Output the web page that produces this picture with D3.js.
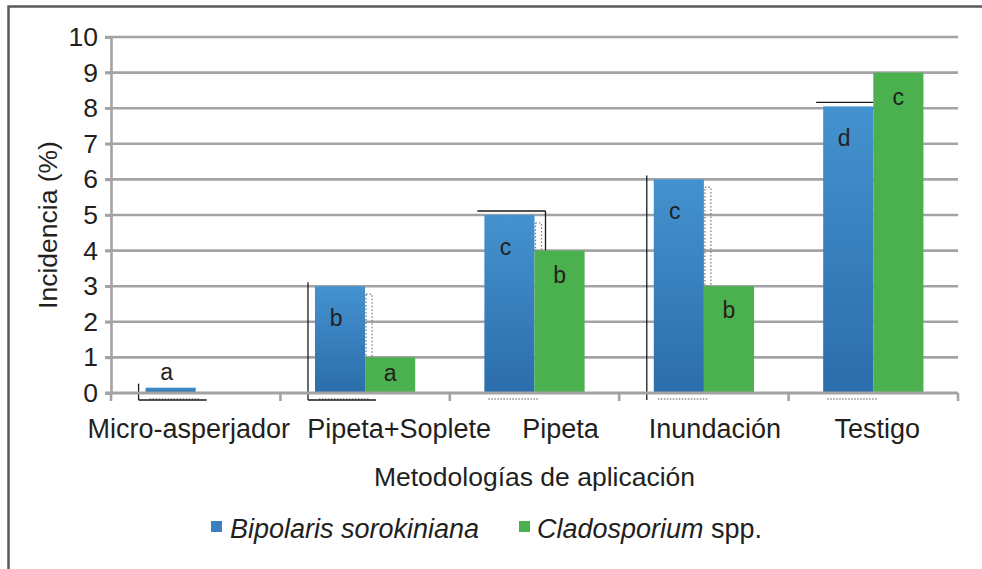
<!DOCTYPE html>
<html>
<head>
<meta charset="utf-8">
<script src="https://cdn.jsdelivr.net/npm/d3@7"></script>
<style>
  body { margin: 0; background: #fff; }
  svg { display: block; font-family: "Liberation Sans", Arial, sans-serif; }
</style>
</head>
<body>
<div id="viz"></div>
<script>
(function() {

// Chart data.
let categories = ["Micro-asperjador", "Pipeta+Soplete", "Pipeta", "Inundación", "Testigo"];
let bipolaris = [0.15, 3, 5, 6, 8.05];
let cladosporium = [0, 1, 4, 3, 9];
let bipolarisLetters = ["a", "b", "c", "c", "d"];
let cladosporiumLetters = ["", "a", "b", "b", "c"];
let yTicks = [0, 1, 2, 3, 4, 5, 6, 7, 8, 9, 10];

// Layout tweaks: the category labels in the original are nudged off-centre,
// and a stray shadow frame shows different sides around each blue bar.
let labelShift = [-7, 34, 26, 11, 4];
let shadowSides = ["lb", "lb", "tr", "l", "t"];

let canvasWidth = 982;
let canvasHeight = 569;
let textColor = "#231f20";
let gridColor = "#a3a3a5";
let fontSize = 26.5;

let svg = d3.select("#viz").append("svg")
  .attr("width", canvasWidth)
  .attr("height", canvasHeight);

let defs = svg.append("defs");
let grad = defs.append("linearGradient")
  .attr("id", "blueGrad")
  .attr("x1", 0).attr("y1", 0).attr("x2", 0).attr("y2", 1);
grad.append("stop").attr("offset", "0%").attr("stop-color", "#4492cf");
grad.append("stop").attr("offset", "100%").attr("stop-color", "#2c6dab");

// outer frame
svg.append("rect")
  .attr("x", 8.5).attr("y", 6.5)
  .attr("width", 1000).attr("height", 600)
  .attr("fill", "none")
  .attr("stroke", "#5a5a5c")
  .attr("stroke-width", 2.5);

let left = 111, right = 958, top = 37, bottom = 393;

let y = d3.scaleLinear().domain([0, 10]).range([bottom, top]);
let x = d3.scaleBand().domain(categories).range([left, right]).padding(0);
let x1 = d3.scaleBand().domain(["b", "c"]).range([0, x.bandwidth()])
  .paddingInner(0).paddingOuter(0.69);

// gridlines
svg.append("g").selectAll("line")
  .data(yTicks.filter(d => d > 0))
  .enter().append("line")
  .attr("x1", left - 6).attr("x2", right)
  .attr("y1", d => y(d)).attr("y2", d => y(d))
  .attr("stroke", gridColor)
  .attr("stroke-width", 2.6);

// y axis
let yAxis = svg.append("g")
  .attr("transform", "translate(" + left + ",0)")
  .call(d3.axisLeft(y).tickValues(yTicks).tickSize(6).tickPadding(7).tickFormat(d3.format("d")));
yAxis.select(".domain").attr("stroke", gridColor).attr("stroke-width", 2.6);
yAxis.selectAll(".tick line").attr("stroke", gridColor).attr("stroke-width", 2.6);
yAxis.selectAll("text")
  .attr("font-size", fontSize)
  .attr("fill", textColor)
  .attr("font-family", "Liberation Sans, Arial, sans-serif");

// bars
let groups = svg.append("g").selectAll("g")
  .data(categories)
  .enter().append("g")
  .attr("transform", d => "translate(" + x(d) + ",0)");

groups.each(function(c, i) {
  let g = d3.select(this);
  let bx = x1("b"), cx = x1("c"), bw = x1.bandwidth();
  let bTop = y(bipolaris[i]);
  let cTop = y(cladosporium[i]);

  // dotted shadow to the right of the blue bar
  if (bipolaris[i] > cladosporium[i] + 0.3) {
    g.append("rect")
      .attr("x", cx + 1).attr("y", bTop + 8)
      .attr("width", 6).attr("height", Math.max(0, cTop - bTop - 8))
      .attr("fill", "none")
      .attr("stroke", "#777")
      .attr("stroke-width", 1.2)
      .attr("stroke-dasharray", "1.5,2");
  }
  // dotted shadow under the blue bar
  g.append("line")
    .attr("x1", bx + 4).attr("x2", cx + 4)
    .attr("y1", bottom + 6).attr("y2", bottom + 6)
    .attr("stroke", "#888")
    .attr("stroke-width", 1.5)
    .attr("stroke-dasharray", "1.5,1.5");

  // stray black shadow frame lines
  let fx0 = bx - 7, fx1 = cx + 11, fy0 = bTop - 4, fy1 = bottom + 4;
  let sides = shadowSides[i];
  let frame = g.append("g").attr("stroke", "#1a1a1a").attr("stroke-width", 1.3);
  if (sides.includes("l")) frame.append("line").attr("x1", fx0).attr("x2", fx0).attr("y1", fy0).attr("y2", fy1 + 3);
  if (sides.includes("b")) frame.append("line").attr("x1", fx0).attr("x2", fx1).attr("y1", fy1 + 3).attr("y2", fy1 + 3);
  if (sides.includes("t")) frame.append("line").attr("x1", fx0).attr("x2", sides.includes("r") ? fx1 : cx).attr("y1", fy0).attr("y2", fy0);
  if (sides.includes("r")) frame.append("line").attr("x1", fx1).attr("x2", fx1).attr("y1", fy0).attr("y2", cTop);

  g.append("rect")
    .attr("x", bx).attr("y", bTop)
    .attr("width", bw).attr("height", bottom - bTop)
    .attr("fill", "url(#blueGrad)");
  if (cladosporium[i] > 0) {
    g.append("rect")
      .attr("x", cx).attr("y", cTop)
      .attr("width", bw).attr("height", bottom - cTop)
      .attr("fill", "#4bb14f");
  }

  // significance letters
  let bLabelY = bipolaris[i] < 1 ? bTop - 16 : bTop + 32;
  g.append("text")
    .attr("x", bx + bw / 2 - 4).attr("y", bLabelY)
    .attr("text-anchor", "middle")
    .attr("dominant-baseline", "central")
    .attr("font-size", 23)
    .attr("fill", textColor)
    .text(bipolarisLetters[i]);
  if (cladosporiumLetters[i]) {
    g.append("text")
      .attr("x", cx + bw / 2).attr("y", Math.min(cTop + 24, bottom - 20))
      .attr("text-anchor", "middle")
      .attr("dominant-baseline", "central")
      .attr("font-size", 23)
      .attr("fill", textColor)
      .text(cladosporiumLetters[i]);
  }
});

// x axis baseline with ticks at category boundaries
svg.append("line")
  .attr("x1", left - 6).attr("x2", right)
  .attr("y1", bottom).attr("y2", bottom)
  .attr("stroke", gridColor).attr("stroke-width", 2.8);
let bounds = categories.map(c => x(c)).concat([right]);
svg.append("g").selectAll("line")
  .data(bounds)
  .enter().append("line")
  .attr("x1", d => d).attr("x2", d => d)
  .attr("y1", bottom).attr("y2", bottom + 8)
  .attr("stroke", gridColor).attr("stroke-width", 2.6);

let xAxis = svg.append("g")
  .attr("transform", "translate(0," + bottom + ")")
  .call(d3.axisBottom(x).tickSize(0).tickPadding(26));
xAxis.select(".domain").remove();
xAxis.selectAll("text")
  .attr("font-size", 27)
  .attr("fill", textColor)
  .attr("font-family", "Liberation Sans, Arial, sans-serif")
  .attr("dx", (d, i) => labelShift[i]);

// axis titles
svg.append("text")
  .attr("transform", "translate(57," + 225 + ") rotate(-90)")
  .attr("text-anchor", "middle")
  .attr("font-size", fontSize)
  .attr("fill", textColor)
  .text("Incidencia (%)");

svg.append("text")
  .attr("x", (left + right) / 2).attr("y", 486)
  .attr("text-anchor", "middle")
  .attr("font-size", fontSize)
  .attr("fill", textColor)
  .text("Metodologías de aplicación");

// legend
let legend = svg.append("g").attr("transform", "translate(211,538)");
legend.append("rect").attr("x", 0).attr("y", -17).attr("width", 11).attr("height", 11).attr("fill", "#3a80c0");
legend.append("text").attr("x", 19).attr("y", 0)
  .attr("font-size", 27).attr("font-style", "italic").attr("fill", textColor)
  .text("Bipolaris sorokiniana");
legend.append("rect").attr("x", 308).attr("y", -17).attr("width", 11).attr("height", 11).attr("fill", "#4bb14f");
let t2 = legend.append("text").attr("x", 326).attr("y", 0)
  .attr("font-size", 27).attr("fill", textColor);
t2.append("tspan").attr("font-style", "italic").text("Cladosporium");
t2.append("tspan").text(" spp.");

})();
</script>
</body>
</html>
